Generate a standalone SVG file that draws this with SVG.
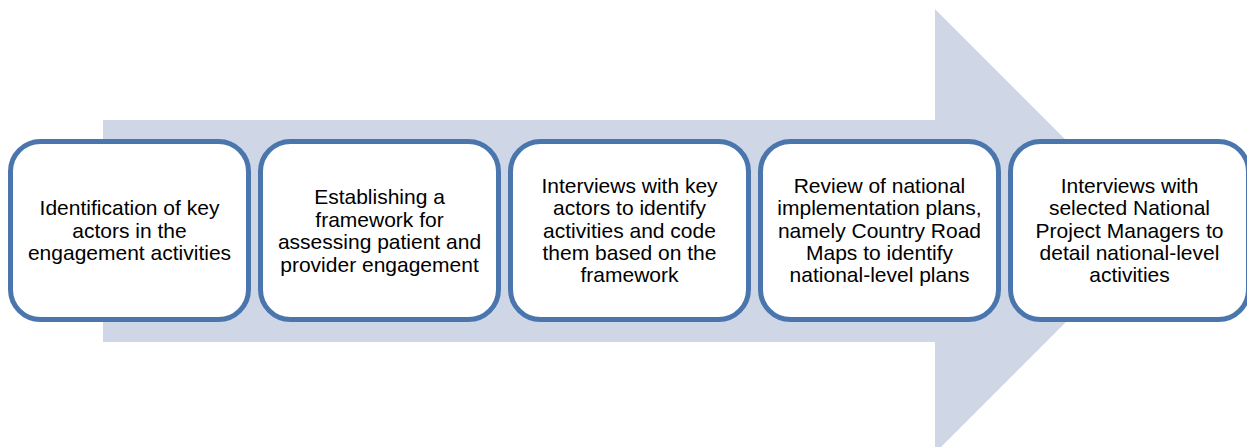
<svg xmlns="http://www.w3.org/2000/svg" width="1247" height="447" viewBox="0 0 1247 447">
<style>
.box{fill:#fff;stroke:#4A76AD;stroke-width:5}
.t{font-family:"Liberation Sans",Arial,sans-serif;font-size:21px;fill:#000;text-anchor:middle}
</style>
<rect width="1247" height="447" fill="#fff"/>
<g id="arrow"><polygon points="103,120 935,120 935,9 1157,231 935,453 935,342 103,342" fill="#CFD7E7"/></g>
<g id="connectors"></g>
<g id="n1"><rect class="box" x="10.5" y="141.5" width="238" height="178" rx="30"/>
<text class="t" x="129.5"><tspan x="129.5" y="215">Identification of key</tspan><tspan x="129.5" y="237.5">actors in the</tspan><tspan x="129.5" y="260">engagement activities</tspan></text></g>
<g id="n2"><rect class="box" x="260.5" y="141.5" width="238" height="178" rx="30"/>
<text class="t"><tspan x="379.5" y="204">Establishing a</tspan><tspan x="379.5" y="226.5">framework for</tspan><tspan x="379.5" y="249">assessing patient and</tspan><tspan x="379.5" y="271.5">provider engagement</tspan></text></g>
<g id="n3"><rect class="box" x="510.5" y="141.5" width="238" height="178" rx="30"/>
<text class="t"><tspan x="629.5" y="193">Interviews with key</tspan><tspan x="629.5" y="215.3">actors to identify</tspan><tspan x="629.5" y="237.6">activities and code</tspan><tspan x="629.5" y="259.9">them based on the</tspan><tspan x="629.5" y="282.2">framework</tspan></text></g>
<g id="n4"><rect class="box" x="760.5" y="141.5" width="238" height="178" rx="30"/>
<text class="t"><tspan x="879.5" y="193">Review of national</tspan><tspan x="879.5" y="215.3">implementation plans,</tspan><tspan x="879.5" y="237.6">namely Country Road</tspan><tspan x="879.5" y="259.9">Maps to identify</tspan><tspan x="879.5" y="282.2">national-level plans</tspan></text></g>
<g id="n5"><rect class="box" x="1010.5" y="141.5" width="238" height="178" rx="30"/>
<text class="t"><tspan x="1129.5" y="193">Interviews with</tspan><tspan x="1129.5" y="215.3">selected National</tspan><tspan x="1129.5" y="237.6">Project Managers to</tspan><tspan x="1129.5" y="259.9">detail national-level</tspan><tspan x="1129.5" y="282.2">activities</tspan></text></g>
</svg>
